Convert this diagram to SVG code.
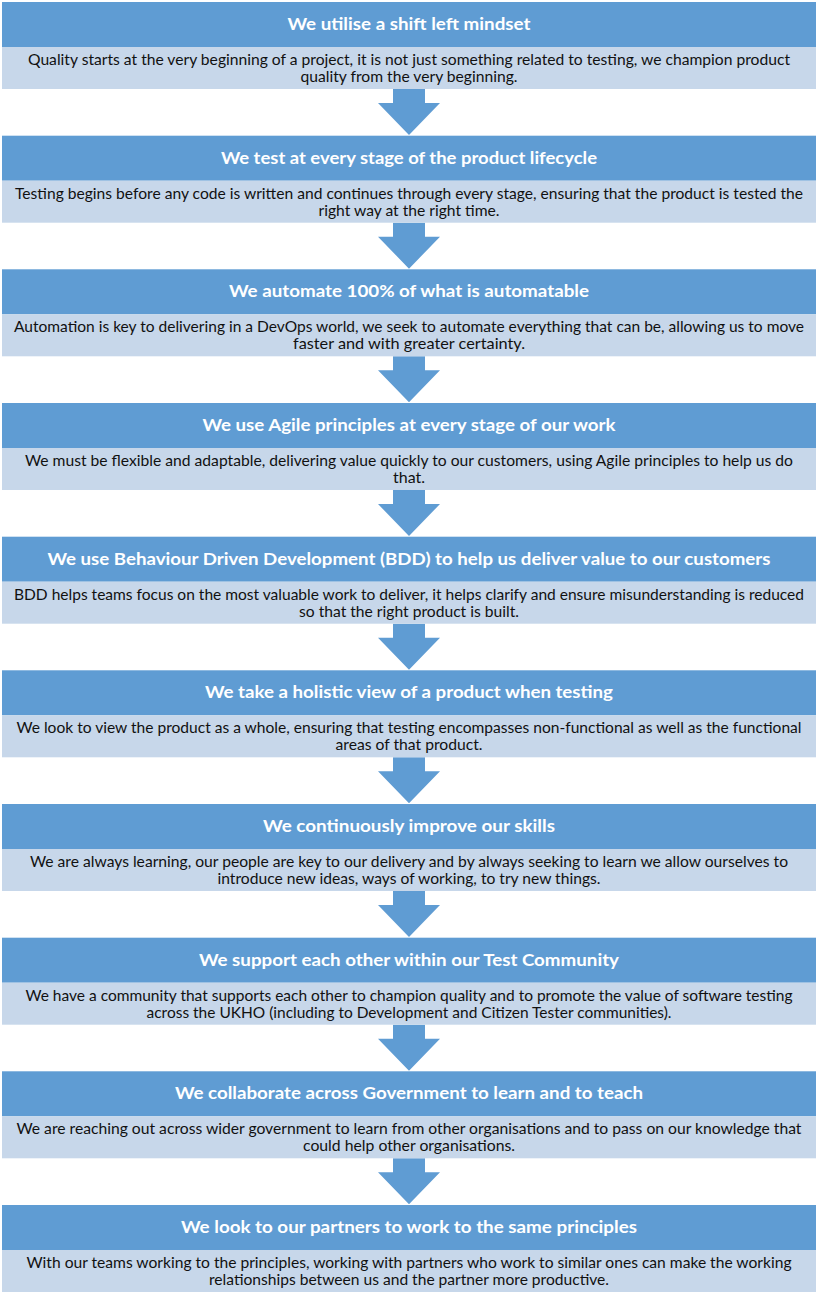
<svg xmlns="http://www.w3.org/2000/svg" width="818" height="1299" viewBox="0 0 818 1299">
  <style>
    .hdr { fill: #5f9cd3; }
    .band { fill: #c7d7ea; }
    .ttl { font-family: Lato, "Liberation Sans", sans-serif; font-weight: bold; font-size: 17px; fill: #ffffff; text-anchor: middle; }
    .txt { font-family: Lato, "Liberation Sans", sans-serif; font-size: 14.7px; fill: #111111; text-anchor: middle; }
    .arrow { fill: #5f9cd3; }
  </style>
  <defs>
    <!-- down arrow between stages, origin at the bottom of the upper band -->
    <path id="down" d="M393 0 H425 V14 H440 L409 46 L378 14 H393 Z"/>
  </defs>
  <rect width="818" height="1299" fill="#ffffff"/>

  <g id="connectors">
    <use href="#down" class="arrow" transform="translate(0,89)"/>
    <use href="#down" class="arrow" transform="translate(0,222.7)"/>
    <use href="#down" class="arrow" transform="translate(0,356.3)"/>
    <use href="#down" class="arrow" transform="translate(0,490)"/>
    <use href="#down" class="arrow" transform="translate(0,623.7)"/>
    <use href="#down" class="arrow" transform="translate(0,757.3)"/>
    <use href="#down" class="arrow" transform="translate(0,891)"/>
    <use href="#down" class="arrow" transform="translate(0,1024.7)"/>
    <use href="#down" class="arrow" transform="translate(0,1158.3)"/>
  </g>

  <g id="stage1" transform="translate(0,2)">
    <rect class="hdr" x="2" y="0" width="814" height="45"/>
    <rect class="band" x="2" y="45" width="814" height="42"/>
    <text class="ttl" x="409" y="28" textLength="243" lengthAdjust="spacingAndGlyphs">We utilise a shift left mindset</text>
    <text class="txt" x="409" y="63" textLength="762" lengthAdjust="spacingAndGlyphs">Quality starts at the very beginning of a project, it is not just something related to testing, we champion product</text>
    <text class="txt" x="409" y="80" textLength="217" lengthAdjust="spacingAndGlyphs">quality from the very beginning.</text>
  </g>

  <g id="stage2" transform="translate(0,135.7)">
    <rect class="hdr" x="2" y="0" width="814" height="45"/>
    <rect class="band" x="2" y="45" width="814" height="42"/>
    <text class="ttl" x="409" y="28" textLength="376" lengthAdjust="spacingAndGlyphs">We test at every stage of the product lifecycle</text>
    <text class="txt" x="409" y="63" textLength="788" lengthAdjust="spacingAndGlyphs">Testing begins before any code is written and continues through every stage, ensuring that the product is tested the</text>
    <text class="txt" x="409" y="80" textLength="181" lengthAdjust="spacingAndGlyphs">right way at the right time.</text>
  </g>

  <g id="stage3" transform="translate(0,269.3)">
    <rect class="hdr" x="2" y="0" width="814" height="45"/>
    <rect class="band" x="2" y="45" width="814" height="42"/>
    <text class="ttl" x="409" y="28" textLength="360" lengthAdjust="spacingAndGlyphs">We automate 100% of what is automatable</text>
    <text class="txt" x="409" y="63" textLength="790" lengthAdjust="spacingAndGlyphs">Automation is key to delivering in a DevOps world, we seek to automate everything that can be, allowing us to move</text>
    <text class="txt" x="409" y="80" textLength="232" lengthAdjust="spacingAndGlyphs">faster and with greater certainty.</text>
  </g>

  <g id="stage4" transform="translate(0,403)">
    <rect class="hdr" x="2" y="0" width="814" height="45"/>
    <rect class="band" x="2" y="45" width="814" height="42"/>
    <text class="ttl" x="409" y="28" textLength="413" lengthAdjust="spacingAndGlyphs">We use Agile principles at every stage of our work</text>
    <text class="txt" x="409" y="63" textLength="768" lengthAdjust="spacingAndGlyphs">We must be flexible and adaptable, delivering value quickly to our customers, using Agile principles to help us do</text>
    <text class="txt" x="409" y="80" textLength="32" lengthAdjust="spacingAndGlyphs">that.</text>
  </g>

  <g id="stage5" transform="translate(0,536.7)">
    <rect class="hdr" x="2" y="0" width="814" height="45"/>
    <rect class="band" x="2" y="45" width="814" height="42"/>
    <text class="ttl" x="409" y="28" textLength="723" lengthAdjust="spacingAndGlyphs">We use Behaviour Driven Development (BDD) to help us deliver value to our customers</text>
    <text class="txt" x="409" y="63" textLength="790" lengthAdjust="spacingAndGlyphs">BDD helps teams focus on the most valuable work to deliver, it helps clarify and ensure misunderstanding is reduced</text>
    <text class="txt" x="409" y="80" textLength="220" lengthAdjust="spacingAndGlyphs">so that the right product is built.</text>
  </g>

  <g id="stage6" transform="translate(0,670.3)">
    <rect class="hdr" x="2" y="0" width="814" height="45"/>
    <rect class="band" x="2" y="45" width="814" height="42"/>
    <text class="ttl" x="409" y="28" textLength="408" lengthAdjust="spacingAndGlyphs">We take a holistic view of a product when testing</text>
    <text class="txt" x="409" y="63" textLength="785" lengthAdjust="spacingAndGlyphs">We look to view the product as a whole, ensuring that testing encompasses non-functional as well as the functional</text>
    <text class="txt" x="409" y="80" textLength="147" lengthAdjust="spacingAndGlyphs">areas of that product.</text>
  </g>

  <g id="stage7" transform="translate(0,804)">
    <rect class="hdr" x="2" y="0" width="814" height="45"/>
    <rect class="band" x="2" y="45" width="814" height="42"/>
    <text class="ttl" x="409" y="28" textLength="292" lengthAdjust="spacingAndGlyphs">We continuously improve our skills</text>
    <text class="txt" x="409" y="63" textLength="758" lengthAdjust="spacingAndGlyphs">We are always learning, our people are key to our delivery and by always seeking to learn we allow ourselves to</text>
    <text class="txt" x="409" y="80" textLength="383" lengthAdjust="spacingAndGlyphs">introduce new ideas, ways of working, to try new things.</text>
  </g>

  <g id="stage8" transform="translate(0,937.7)">
    <rect class="hdr" x="2" y="0" width="814" height="45"/>
    <rect class="band" x="2" y="45" width="814" height="42"/>
    <text class="ttl" x="409" y="28" textLength="420" lengthAdjust="spacingAndGlyphs">We support each other within our Test Community</text>
    <text class="txt" x="409" y="63" textLength="767" lengthAdjust="spacingAndGlyphs">We have a community that supports each other to champion quality and to promote the value of software testing</text>
    <text class="txt" x="409" y="80" textLength="525" lengthAdjust="spacingAndGlyphs">across the UKHO (including to Development and Citizen Tester communities).</text>
  </g>

  <g id="stage9" transform="translate(0,1071.3)">
    <rect class="hdr" x="2" y="0" width="814" height="45"/>
    <rect class="band" x="2" y="45" width="814" height="42"/>
    <text class="ttl" x="409" y="28" textLength="468" lengthAdjust="spacingAndGlyphs">We collaborate across Government to learn and to teach</text>
    <text class="txt" x="409" y="63" textLength="785" lengthAdjust="spacingAndGlyphs">We are reaching out across wider government to learn from other organisations and to pass on our knowledge that</text>
    <text class="txt" x="409" y="80" textLength="212" lengthAdjust="spacingAndGlyphs">could help other organisations.</text>
  </g>

  <g id="stage10" transform="translate(0,1205)">
    <rect class="hdr" x="2" y="0" width="814" height="45"/>
    <rect class="band" x="2" y="45" width="814" height="42"/>
    <text class="ttl" x="409" y="28" textLength="456" lengthAdjust="spacingAndGlyphs">We look to our partners to work to the same principles</text>
    <text class="txt" x="409" y="63" textLength="765" lengthAdjust="spacingAndGlyphs">With our teams working to the principles, working with partners who work to similar ones can make the working</text>
    <text class="txt" x="409" y="80" textLength="400" lengthAdjust="spacingAndGlyphs">relationships between us and the partner more productive.</text>
  </g>
</svg>
